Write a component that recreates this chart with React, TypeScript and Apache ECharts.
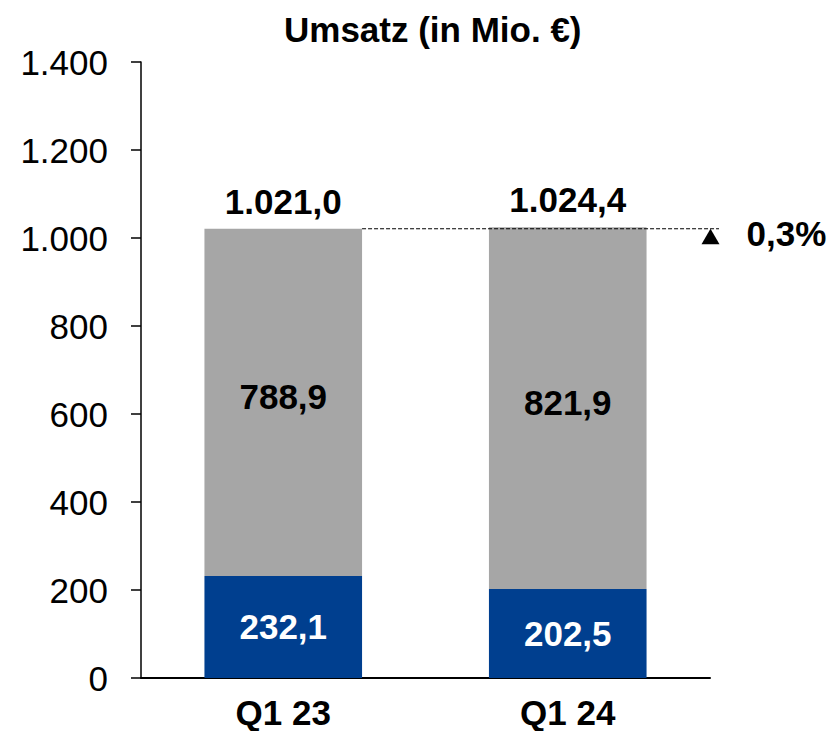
import React, { useEffect, useRef } from "react";
import * as echarts from "echarts";

const categories = ["Q1 23", "Q1 24"];
const segmentBottom = [232.1, 202.5];
const segmentTop = [788.9, 821.9];
const yMin = 0;
const yMax = 1400;
const yInterval = 200;

const FONT = "'Liberation Sans', Arial, Helvetica, sans-serif";
const BLUE = "#003F8F";
const GREY = "#A6A6A6";

function fmt(v: number, dec: number): string {
  const fixed = Math.abs(v).toFixed(dec);
  const [intPart, frac] = fixed.split(".");
  const withDots = intPart.replace(/\B(?=(\d{3})+(?!\d))/g, ".");
  return (v < 0 ? "-" : "") + withDots + (frac ? "," + frac : "");
}

export default function App() {
  const ref = useRef<HTMLDivElement>(null);
  useEffect(() => {
    document.body.style.margin = "0";
    if (!ref.current) return;
    const chart = echarts.init(ref.current, undefined, { renderer: "svg" });
    const totals = segmentBottom.map((v, i) => +(v + segmentTop[i]).toFixed(1));
    const option: any = {
      animation: false,
      title: {
        text: "Umsatz (in Mio. €)",
        left: 279,
        top: 7,
        textStyle: { fontFamily: FONT, fontSize: 35, fontWeight: "bold", color: "#000" },
      },
      grid: { left: 141, right: 128, top: 62, bottom: 53, containLabel: false },
      xAxis: {
        type: "category",
        data: categories,
        axisLine: { lineStyle: { color: "#000", width: 2 } },
        axisTick: { show: false },
        axisLabel: {
          margin: 17,
          fontFamily: FONT,
          fontSize: 35,
          lineHeight: 34,
          fontWeight: "bold",
          color: "#000",
        },
      },
      yAxis: {
        type: "value",
        min: yMin,
        max: yMax,
        interval: yInterval,
        splitLine: { show: false },
        axisLine: { show: true, lineStyle: { color: "#000", width: 1.5 } },
        axisTick: { show: true, length: 10, lineStyle: { color: "#000", width: 1.5 } },
        axisLabel: {
          margin: 33,
          fontFamily: FONT,
          fontSize: 35,
          color: "#000",
          formatter: (v: number) => fmt(v, 0),
        },
      },
      series: [
        {
          type: "bar",
          stack: "u",
          data: segmentBottom,
          barWidth: "55.4%",
          itemStyle: { color: BLUE },
          label: {
            show: true,
            position: "inside",
            fontFamily: FONT,
            fontSize: 35,
            fontWeight: "bold",
            color: "#fff",
            formatter: (p: any) => fmt(p.value, 1),
          },
        },
        {
          type: "bar",
          stack: "u",
          data: segmentTop,
          barWidth: "55.4%",
          itemStyle: { color: GREY },
          label: {
            show: true,
            position: "inside",
            offset: [0, -6],
            fontFamily: FONT,
            fontSize: 35,
            fontWeight: "bold",
            color: "#000",
            formatter: (p: any) => fmt(p.value, 1),
          },
        },
        {
          type: "scatter",
          data: totals,
          symbolSize: 0,
          itemStyle: { color: "#000", opacity: 1 },
          silent: true,
          z: 10,
          label: {
            show: true,
            position: "top",
            distance: 10,
            fontFamily: FONT,
            fontSize: 35,
            fontWeight: "bold",
            color: "#000",
            opacity: 1,
            formatter: (p: any) => fmt(p.value, 1),
          },
        },
      ],
    };
    chart.setOption(option);

    const p0 = chart.convertToPixel({ gridIndex: 0 }, [0, totals[0]]) as number[];
    const p1 = chart.convertToPixel({ gridIndex: 0 }, [1, totals[1]]) as number[];
    const band = p1[0] - p0[0];
    const barW = band * 0.554;
    const startX = p0[0] + barW / 2;
    const gridRight = p1[0] + band / 2;
    const lineY = p0[1];
    const pct = (totals[1] / totals[0] - 1) * 100;
    const triCx = gridRight + 0.5;
    chart.setOption({
      graphic: [
        {
          type: "line",
          shape: { x1: startX, y1: lineY, x2: gridRight + 9, y2: lineY },
          style: { stroke: "#000", lineWidth: 1, lineDash: [4, 2] },
          z: 20,
        },
        {
          type: "polygon",
          shape: {
            points: [
              [triCx - 9, lineY + 15.5],
              [triCx + 9, lineY + 15.5],
              [triCx, lineY],
            ],
          },
          style: { fill: "#000" },
          z: 20,
        },
        {
          type: "text",
          x: triCx + 36,
          y: lineY + 5,
          style: {
            text: fmt(pct, 1) + "%",
            fontFamily: FONT,
            fontSize: 35,
            fontWeight: "bold",
            fill: "#000",
            textAlign: "left",
            textVerticalAlign: "middle",
          },
          z: 20,
        },
      ],
    });
    return () => chart.dispose();
  }, []);
  return <div ref={ref} style={{ width: 838, height: 731 }} />;
}
